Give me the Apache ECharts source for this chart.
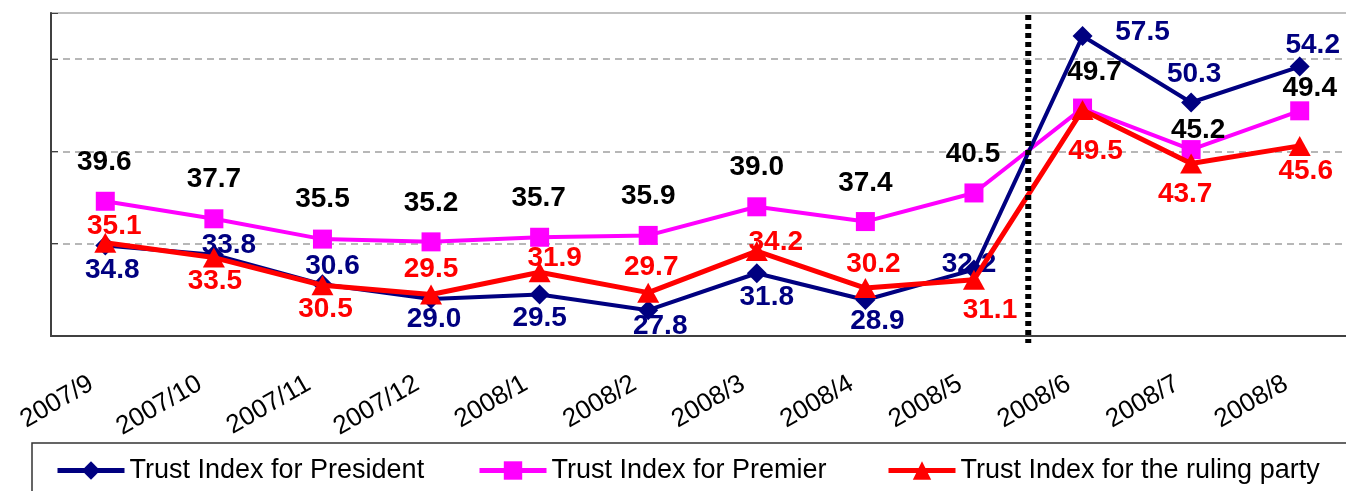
<!DOCTYPE html>
<html>
<head>
<meta charset="utf-8">
<script src="https://cdn.jsdelivr.net/npm/echarts@6/dist/echarts.min.js"></script>
<style>
html, body { margin: 0; padding: 0; background: #fff; }
#main { width: 1346px; height: 491px; }
</style>
</head>
<body>
<div id="main"></div>
<script>
// months on the x axis
var months = ['2007/9', '2007/10', '2007/11', '2007/12', '2008/1', '2008/2',
              '2008/3', '2008/4', '2008/5', '2008/6', '2008/7', '2008/8'];

// trust index values
var president   = [34.8, 33.8, 30.6, 29.0, 29.5, 27.8, 31.8, 28.9, 32.2, 57.5, 50.3, 54.2];
var premier     = [39.6, 37.7, 35.5, 35.2, 35.7, 35.9, 39.0, 37.4, 40.5, 49.7, 45.2, 49.4];
var rulingParty = [35.1, 33.5, 30.5, 29.5, 31.9, 29.7, 34.2, 30.2, 31.1, 49.5, 43.7, 45.6];

// label offsets [dx, dy] from each point (layout only)
var presidentLabelPos = [[7, 25], [15, -10], [10, -18], [3, 20], [0, 24], [12, 16],
                         [10, 24], [12, 21], [-5, -5], [60, -4], [3, -28], [13, -21]];
var premierLabelPos   = [[-1, -39], [0, -40], [0, -40], [0, -39], [-1, -39], [0, -39],
                         [0, -40], [0, -38], [-1, -39], [12, -36], [7, -19], [10, -23]];
var partyLabelPos     = [[9, -17], [1, 24], [3, 24], [0, -25], [15, -14], [3, -25],
                         [19, -9], [8, -24], [16, 31], [13, 41], [-6, 31], [6, 25]];

function withLabels(values, pos) {
    return values.map(function (v, i) {
        return { value: v, label: { offset: pos[i] } };
    });
}

var font = 'Liberation Sans, Arial, sans-serif';

function labelStyle(color) {
    return {
        show: true,
        position: 'inside',
        color: color,
        fontSize: 28,
        fontWeight: 'bold',
        fontFamily: font,
        formatter: function (p) { return p.value.toFixed(1); }
    };
}

var legendBase = {
    padding: 0,
    itemWidth: 67,
    itemHeight: 23,
    top: 457,
    selectedMode: false,
    lineStyle: { width: 5 },
    textStyle: { fontSize: 27, fontFamily: font, color: '#000' }
};

var myChart = echarts.init(document.getElementById('main'));

var option = {
    animation: false,
    grid: {
        left: 51,
        top: 13,
        width: 1303,
        height: 323,
        show: true,
        borderColor: '#c0c0c0',
        borderWidth: 2,
        outerBoundsMode: 'none'
    },
    legend: [
        Object.assign({}, legendBase, { data: ['Trust Index for President'], left: 55 }),
        Object.assign({}, legendBase, { data: ['Trust Index for Premier'], left: 477 }),
        Object.assign({}, legendBase, { data: ['Trust Index for the ruling party'], left: 886 })
    ],
    xAxis: {
        type: 'category',
        data: months,
        boundaryGap: true,
        axisLine: { lineStyle: { color: '#404040', width: 2 } },
        axisTick: { inside: true, length: 8, lineStyle: { color: '#404040', width: 1 } },
        axisLabel: {
            interval: 0,
            rotate: 30,
            margin: 38,
            padding: [0, 16, 0, 0],
            fontSize: 26,
            fontFamily: font,
            color: '#000'
        },
        splitLine: { show: false }
    },
    yAxis: {
        type: 'value',
        min: 25,
        max: 60,
        interval: 10,
        axisLine: { show: true, lineStyle: { color: '#404040', width: 2 } },
        axisTick: { show: true, inside: true, length: 7, lineStyle: { color: '#404040' } },
        axisLabel: { show: false },
        splitLine: {
            show: true,
            showMinLine: false,
            showMaxLine: false,
            lineStyle: { type: [7, 5], color: '#a0a0a0', width: 1.5 }
        }
    },
    series: [
        {
            name: 'Trust Index for President',
            type: 'line',
            z: 3,
            data: withLabels(president, presidentLabelPos),
            symbol: 'diamond',
            symbolSize: 20,
            lineStyle: { color: '#000080', width: 4 },
            itemStyle: { color: '#000080' },
            label: labelStyle('#000080')
        },
        {
            name: 'Trust Index for Premier',
            type: 'line',
            z: 2,
            data: withLabels(premier, premierLabelPos),
            symbol: 'rect',
            symbolSize: 19,
            lineStyle: { color: '#ff00ff', width: 4 },
            itemStyle: { color: '#ff00ff' },
            label: labelStyle('#000000')
        },
        {
            name: 'Trust Index for the ruling party',
            type: 'line',
            z: 4,
            data: withLabels(rulingParty, partyLabelPos),
            symbol: 'triangle',
            symbolSize: [22, 20],
            lineStyle: { color: '#ff0000', width: 5 },
            itemStyle: { color: '#ff0000' },
            label: labelStyle('#ff0000')
        }
    ]
};

myChart.setOption(option);

// dotted separator between 2008/5 and 2008/6, plus legend frame
var xA = myChart.convertToPixel({ xAxisIndex: 0 }, months[8]);
var xB = myChart.convertToPixel({ xAxisIndex: 0 }, months[9]);
var yTop = myChart.convertToPixel({ yAxisIndex: 0 }, 60);
var yBot = myChart.convertToPixel({ yAxisIndex: 0 }, 25);
var xSep = (xA + xB) / 2;

myChart.setOption({
    graphic: [
        {
            type: 'rect',
            silent: true,
            shape: { x: 32, y: 443, width: 1330, height: 60 },
            style: { fill: null, stroke: '#333', lineWidth: 1.5 }
        },
        {
            type: 'line',
            silent: true,
            z: 10,
            shape: { x1: xSep, y1: yTop + 2, x2: xSep, y2: yBot + 7 },
            style: { stroke: '#000', lineWidth: 6, lineDash: [5, 4] }
        }
    ]
});
</script>
</body>
</html>
